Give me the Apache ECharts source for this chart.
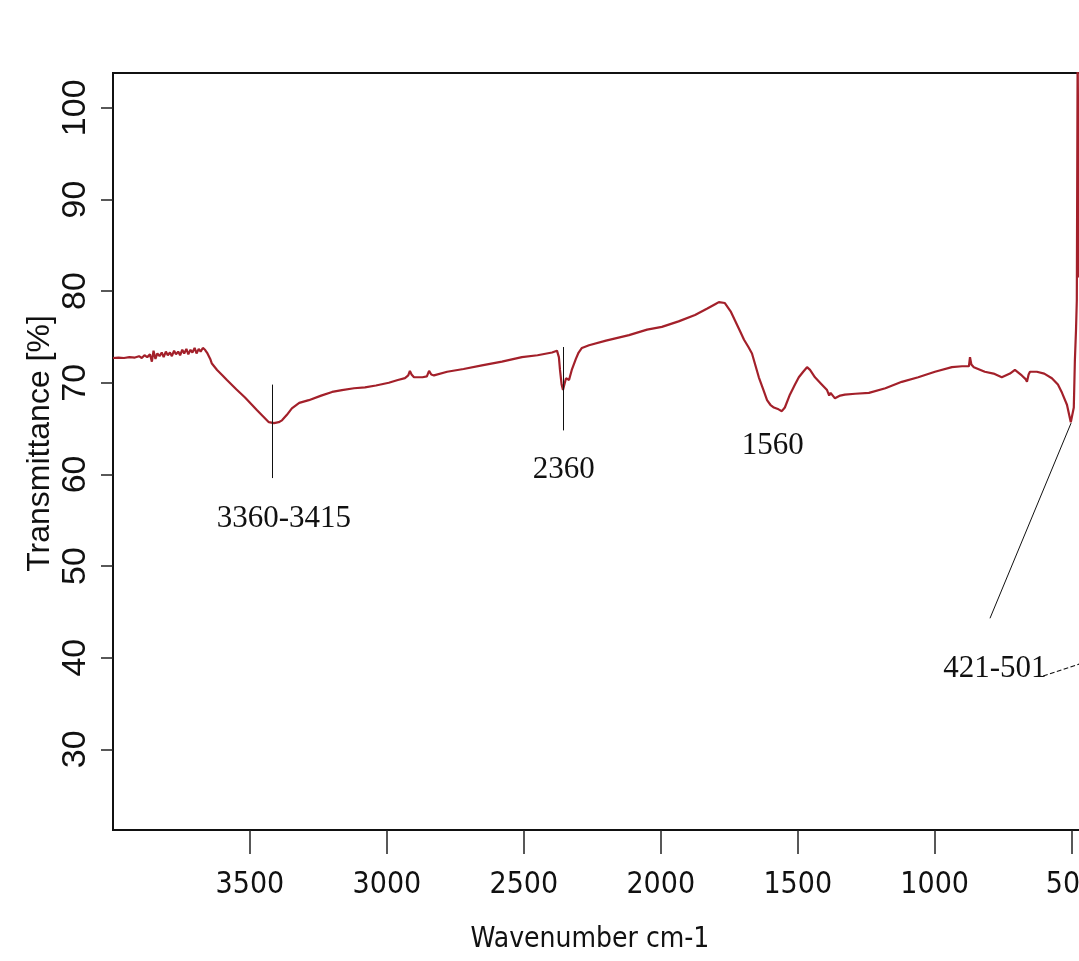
<!DOCTYPE html>
<html>
<head>
<meta charset="utf-8">
<title>FTIR spectrum</title>
<script src="https://cdn.jsdelivr.net/npm/echarts@6.0.0/dist/echarts.min.js"></script>
<style>
  html, body { margin: 0; padding: 0; background: #fff; }
  #chart { width: 1079px; height: 961px; }
</style>
</head>
<body>
<div id="chart"></div>
<script>
// spectrum (cm-1 vs %T)
const wavenumber = [
  4000, 3980, 3960, 3940, 3920, 3905, 3895, 3885, 3875, 3865, 3858, 3852, 3845, 3838, 3830,
  3822, 3815, 3807, 3800, 3792, 3785, 3777, 3770, 3762, 3755, 3747, 3740, 3732, 3725, 3717,
  3710, 3702, 3695, 3687, 3680, 3672, 3664, 3655, 3645, 3639, 3620, 3600, 3584, 3550, 3518,
  3474, 3431, 3412, 3395, 3383, 3365, 3347, 3320, 3285, 3240, 3200, 3164, 3120, 3080, 3040,
  2993, 2960, 2934, 2922, 2916, 2910, 2901, 2870, 2854, 2846, 2838, 2828, 2780, 2720, 2653,
  2580, 2507, 2450, 2397, 2379, 2372, 2368, 2362, 2357, 2352, 2346, 2340, 2335, 2325, 2310,
  2300, 2288, 2262, 2200, 2116, 2050, 1996, 1935, 1875, 1830, 1800, 1788, 1766, 1745, 1729,
  1710, 1696, 1680, 1667, 1642, 1625, 1612, 1600, 1587, 1570, 1558, 1547, 1530, 1510, 1496,
  1480, 1466, 1455, 1437, 1415, 1393, 1385, 1380, 1364, 1345, 1328, 1290, 1240, 1180, 1120,
  1060, 999, 937, 900, 875, 871, 866, 857, 817, 785, 755, 725, 707, 690, 682,
  668, 663, 657, 652, 627, 600, 572, 550, 535, 517, 503, 497, 492, 488, 484,
  481, 478, 475, 473, 471, 469, 466, 460, 450, 400
]
const transmittance = [
  72.7, 72.75, 72.7, 72.8, 72.75, 72.9, 72.7, 73.0, 72.8, 73.1, 72.3, 73.5, 72.6, 73.2, 72.9,
  73.3, 72.8, 73.4, 73.0, 73.3, 72.9, 73.5, 73.1, 73.4, 73.0, 73.6, 73.2, 73.7, 73.1, 73.6,
  73.3, 73.8, 73.2, 73.7, 73.4, 73.8, 73.6, 73.2, 72.6, 72.1, 71.4, 70.8, 70.3, 69.3, 68.4,
  67.0, 65.7, 65.6, 65.7, 65.9, 66.5, 67.2, 67.8, 68.1, 68.6, 69.0, 69.2, 69.4, 69.5, 69.7,
  70.0, 70.3, 70.5, 70.8, 71.3, 70.9, 70.6, 70.6, 70.7, 71.3, 70.9, 70.8, 71.2, 71.5, 71.9,
  72.3, 72.8, 73.0, 73.3, 73.5, 72.8, 71.4, 69.8, 69.2, 69.8, 70.5, 70.6, 70.3, 71.4, 72.6,
  73.3, 73.8, 74.1, 74.6, 75.2, 75.8, 76.1, 76.7, 77.4, 78.1, 78.6, 78.8, 78.7, 77.8, 76.8,
  75.6, 74.7, 73.9, 73.2, 70.6, 69.2, 68.1, 67.6, 67.3, 67.1, 66.9, 67.3, 68.6, 69.8, 70.6,
  71.2, 71.7, 71.4, 70.6, 69.9, 69.2, 68.6, 68.9, 68.3, 68.6, 68.7, 68.8, 68.9, 69.4, 70.1,
  70.6, 71.2, 71.7, 71.8, 71.8, 72.8, 72.0, 71.7, 71.2, 71.0, 70.6, 71.0, 71.4, 71.0, 70.8,
  70.4, 70.1, 70.9, 71.2, 71.2, 71.0, 70.5, 69.8, 68.9, 67.6, 65.7, 65.9, 67.3, 72.5, 75.7,
  79.0, 106, 106, 81.5, 88, 82, 86, 90, 88, 88
]

const xTicks = [3500, 3000, 2500, 2000, 1500, 1000, 500]
const yTicks = [30, 40, 50, 60, 70, 80, 90, 100]

// band annotations: text and where it sits (data coords)
const bandNames = ['3360-3415', '2360', '1560', '421-501']
const bandLabelAt = [[3376, 55.2], [2354, 60.5], [1591, 63.1], [780, 38.8]]
// leader lines: [from, to] in data coords
const leaderLines = [
  [[3420, 69.8], [3420, 59.6]],
  [[2357, 73.9], [2357, 64.8]],
  [[798, 44.3], [502, 65.6]]
]
const dashedLeader = [[604, 38.0], [462, 39.4]]

const narrow = "'Liberation Sans Narrow', 'DejaVu Sans Condensed', 'Arial Narrow', sans-serif"
const sans = "'Liberation Sans', Arial, sans-serif"
const serif = "'Liberation Serif', 'Times New Roman', serif"

const chart = echarts.init(document.getElementById('chart'))

chart.setOption({
  animation: false,
  backgroundColor: '#fff',
  grid: {
    left: 113,
    top: 73,
    right: -20,
    bottom: 131,
    show: true,
    borderColor: '#111',
    borderWidth: 2,
    outerBoundsMode: 'none'
  },
  xAxis: {
    type: 'value',
    inverse: true,
    min: 400,
    max: 4000,
    name: 'Wavenumber cm-1',
    nameLocation: 'middle',
    nameGap: 96,
    nameMoveOverlap: false,
    nameTextStyle: {fontFamily: narrow, fontSize: 28, color: '#111', padding: [0, 32, 0, 0]},
    axisLine: {show: true, onZero: false, lineStyle: {color: '#111', width: 2}},
    axisTick: {show: true, length: 24, customValues: xTicks, lineStyle: {color: '#222', width: 1.5}},
    axisLabel: {
      customValues: xTicks,
      formatter: v => String(v),
      fontFamily: narrow,
      fontSize: 30,
      color: '#111',
      margin: 40
    },
    splitLine: {show: false}
  },
  yAxis: {
    type: 'value',
    min: 21.2,
    max: 103.8,
    name: 'Transmittance [%]',
    nameLocation: 'middle',
    nameRotate: 90,
    nameGap: 57,
    nameMoveOverlap: false,
    nameTextStyle: {fontFamily: sans, fontSize: 32, color: '#111', padding: [0, 0, 0, 16]},
    axisLine: {show: true, onZero: false, lineStyle: {color: '#111', width: 2}},
    axisTick: {show: true, length: 12, customValues: yTicks, lineStyle: {color: '#222', width: 1.5}},
    axisLabel: {
      customValues: yTicks,
      formatter: v => String(v),
      rotate: 90,
      fontFamily: sans,
      fontSize: 34,
      color: '#111',
      margin: 20
    },
    splitLine: {show: false}
  },
  series: [
    {
      type: 'line',
      data: wavenumber.map((w, i) => [w, transmittance[i]]),
      showSymbol: false,
      symbol: 'none',
      clip: true,
      lineStyle: {color: '#a3202a', width: 2.2},
      markLine: {
        silent: true,
        symbol: ['none', 'none'],
        label: {show: false},
        lineStyle: {color: '#111', width: 1, type: 'solid'},
        data: [
          ...leaderLines.map(([a, b]) => [{coord: a}, {coord: b}]),
          [{coord: dashedLeader[0], lineStyle: {type: 'dashed', width: 1.2}}, {coord: dashedLeader[1]}]
        ]
      },
      markPoint: {
        silent: true,
        symbol: 'rect',
        symbolSize: 1,
        itemStyle: {color: 'rgba(0,0,0,0)'},
        label: {
          show: true,
          position: 'inside',
          formatter: '{b}',
          fontFamily: serif,
          fontSize: 31,
          color: '#111'
        },
        data: bandNames.map((name, i) => ({name, coord: bandLabelAt[i]}))
      }
    }
  ]
})
</script>
</body>
</html>
